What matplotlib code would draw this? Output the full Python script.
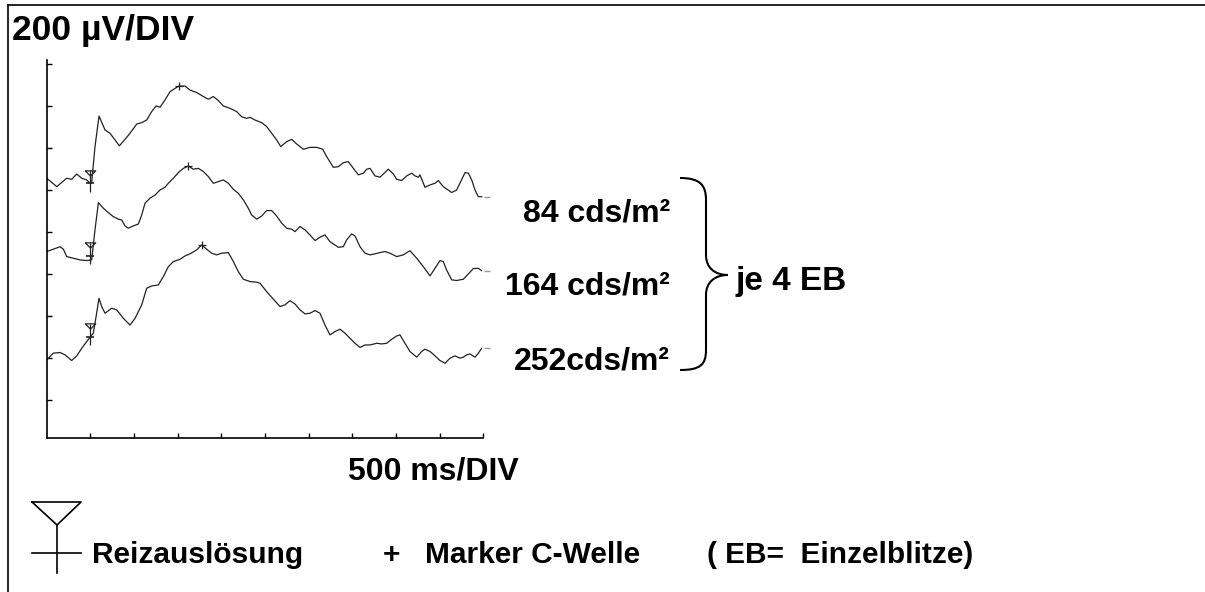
import matplotlib
matplotlib.use('Agg')
import matplotlib.pyplot as plt
from matplotlib.path import Path
from matplotlib.patches import PathPatch
from matplotlib.lines import Line2D

plt.rcParams['font.family'] = ['Liberation Sans', 'DejaVu Sans']
plt.rcParams['font.weight'] = 'bold'

# ERG traces: time in ms, amplitude in µV (traces stacked with offset)
t1 = [0, 115, 229, 286, 344, 401, 458, 489, 515, 553, 599, 668, 725, 783, 832, 897, 954,
      1031, 1088, 1145, 1202, 1252, 1298, 1355, 1412, 1470, 1515, 1584, 1641, 1718, 1794,
      1851, 1908, 1966, 2023, 2099, 2176, 2233, 2290, 2328, 2386, 2462, 2519, 2577, 2634,
      2680, 2748, 2806, 2863, 2939, 3016, 3092, 3161, 3206, 3283, 3340, 3397, 3454, 3512,
      3569, 3626, 3664, 3703, 3760, 3817, 3855, 3912, 3970, 4008, 4065, 4122, 4180, 4218,
      4256, 4275, 4332, 4390, 4447, 4485, 4542, 4638, 4695, 4741, 4791, 4829, 4867, 4905,
      4943, 4981]
v1 = [1056, 1016, 1056, 1051, 1076, 1056, 1048, 1035, 1035, 1206, 1352, 1286, 1270, 1238,
      1210, 1241, 1270, 1314, 1321, 1333, 1373, 1400, 1394, 1429, 1468, 1484, 1495, 1495,
      1476, 1464, 1445, 1432, 1445, 1426, 1400, 1389, 1373, 1349, 1341, 1346, 1333, 1321,
      1302, 1270, 1238, 1207, 1230, 1241, 1219, 1194, 1203, 1203, 1194, 1159, 1108, 1111,
      1130, 1135, 1103, 1072, 1080, 1099, 1103, 1067, 1061, 1076, 1099, 1076, 1051, 1045,
      1067, 1080, 1067, 1061, 1072, 1013, 1024, 1032, 1045, 1016, 988, 1000, 1040, 1083,
      1080, 1048, 1000, 968, 968]

t2 = [0, 76, 153, 191, 229, 305, 382, 458, 515, 553, 592, 649, 706, 763, 821, 859, 897, 935,
      992, 1050, 1088, 1126, 1183, 1241, 1298, 1355, 1393, 1450, 1508, 1565, 1622, 1679,
      1737, 1794, 1851, 1908, 1966, 2023, 2080, 2138, 2195, 2252, 2309, 2347, 2405, 2462,
      2519, 2577, 2634, 2691, 2748, 2806, 2844, 2901, 2958, 3015, 3073, 3130, 3187, 3244,
      3302, 3340, 3397, 3435, 3492, 3531, 3588, 3645, 3702, 3760, 3817, 3874, 3931, 4008,
      4084, 4160, 4237, 4313, 4390, 4447, 4504, 4542, 4580, 4638, 4695, 4771, 4828, 4886,
      4943, 4981]
v2 = [707, 718, 730, 718, 683, 675, 667, 664, 667, 810, 940, 913, 892, 873, 861, 857, 829,
      818, 829, 838, 881, 937, 961, 976, 1000, 1013, 1032, 1056, 1083, 1103, 1114, 1099,
      1103, 1088, 1064, 1032, 1040, 1048, 1032, 1003, 984, 953, 913, 881, 861, 876, 902,
      902, 876, 842, 818, 813, 802, 826, 810, 786, 759, 775, 786, 754, 738, 727, 730, 762,
      791, 781, 730, 699, 691, 696, 702, 707, 699, 683, 691, 711, 675, 635, 591, 627, 664,
      659, 619, 572, 569, 575, 600, 626, 627, 616]

t3 = [0, 76, 153, 210, 286, 344, 401, 458, 496, 534, 553, 599, 630, 668, 744, 802, 878, 954,
      1012, 1088, 1145, 1202, 1279, 1336, 1393, 1450, 1527, 1584, 1641, 1718, 1775, 1832,
      1889, 1947, 2004, 2080, 2138, 2195, 2252, 2328, 2405, 2443, 2519, 2596, 2672, 2729,
      2786, 2844, 2901, 2958, 3015, 3073, 3130, 3187, 3244, 3302, 3359, 3416, 3473, 3531,
      3588, 3645, 3702, 3779, 3836, 3893, 3951, 4008, 4046, 4103, 4160, 4237, 4294, 4332,
      4390, 4447, 4504, 4561, 4619, 4676, 4733, 4771, 4809, 4847, 4905, 4943, 4981]
v3 = [191, 223, 226, 215, 188, 210, 246, 278, 299, 318, 365, 484, 445, 413, 437, 429, 389,
      357, 389, 453, 532, 543, 548, 588, 635, 659, 670, 686, 696, 715, 738, 718, 699, 691,
      699, 702, 659, 611, 575, 564, 561, 556, 516, 480, 445, 453, 473, 457, 429, 410, 413,
      426, 413, 357, 310, 326, 337, 318, 294, 270, 250, 262, 262, 270, 267, 270, 289, 305,
      310, 270, 231, 204, 231, 242, 231, 210, 188, 175, 199, 210, 199, 204, 215, 219, 204,
      223, 246]

trigger_ms = 496
trigger_uv = [1032, 686, 301]
cwave_ms = [1515, 1622, 1775]
cwave_uv = [1495, 1114, 738]
labels = ['84 cds/m²', '164 cds/m²', '252cds/m²']

W, H = 1205, 592


def fx(px):
    return px / W


def fy(py):
    return 1 - py / H


fig = plt.figure(figsize=(W / 100, H / 100), dpi=100)
ax = fig.add_axes([fx(46.7), fy(438), (483.3 - 46.7) / W, (438 - 60) / H])

for t, v in [(t1, v1), (t2, v2), (t3, v3)]:
    ax.plot(t, v, color='#222222', lw=0.9, solid_joinstyle='round')
    # small grey end mark of the recorder
    ax.plot([5040], [v[-1]], marker='_', ms=4, color='#999999', clip_on=False)

# stimulus markers
tri = [(-1, 0.5), (1, 0.5), (0, -0.5), (-1, 0.5)]
for lev in trigger_uv:
    ax.vlines(trigger_ms, lev - 40, lev + 62, color='#222222', lw=0.9)
    ax.plot(trigger_ms, lev, marker='_', ms=6, mew=1.2, color='#222222')
    ax.plot(trigger_ms, lev + 50, marker=tri, ms=7.5, mew=0.9, mfc='none', mec='#222222')

# C-wave markers
ax.plot(cwave_ms, cwave_uv, ls='none', marker='+', ms=6, mew=0.9, color='#222222')

ax.set_xlim(0, 5000)
ax.set_ylim(-181, 1619)
ax.set_xticks(range(500, 5001, 500))
ax.set_yticks(range(0, 1601, 200))
ax.tick_params(direction='in', length=3.5, width=1, labelbottom=False, labelleft=False)
ax.spines['top'].set_visible(False)
ax.spines['right'].set_visible(False)
for s in ['left', 'bottom']:
    ax.spines[s].set_linewidth(1.2)
ax.patch.set_alpha(0)

# frame lines of the scanned figure
fig.add_artist(Line2D([fx(8), fx(8)], [fy(5), fy(592)], color='black', lw=1.2))
fig.add_artist(Line2D([fx(8), fx(1205)], [fy(5), fy(5)], color='black', lw=1.2))

fs = 23
fig.text(fx(12), fy(40), '200 µV/DIV', ha='left', va='baseline', fontsize=25.5, weight='bold')
for lab, base in zip(labels, [222, 295, 369]):
    fig.text(fx(670), fy(base), lab, ha='right', va='baseline', fontsize=fs, weight='bold')
fig.text(fx(735), fy(290), 'je 4 EB', ha='left', va='baseline', fontsize=24, weight='bold')
fig.text(fx(433), fy(479), '500 ms/DIV', ha='center', va='baseline', fontsize=fs, weight='bold')

# curly brace
pts = [(680, 178), (700, 178), (706, 185), (706, 200), (706, 255),
       (706, 268), (715, 275), (728, 275),
       (715, 275), (706, 282), (706, 295), (706, 350),
       (706, 365), (700, 370), (680, 370)]
codes = [Path.MOVETO, Path.CURVE4, Path.CURVE4, Path.CURVE4, Path.LINETO,
         Path.CURVE4, Path.CURVE4, Path.CURVE4,
         Path.CURVE4, Path.CURVE4, Path.CURVE4, Path.LINETO,
         Path.CURVE4, Path.CURVE4, Path.CURVE4]
brace = Path([(fx(x), fy(y)) for x, y in pts], codes)
fig.add_artist(PathPatch(brace, fc='none', ec='black', lw=1.5, transform=fig.transFigure))

# legend line at the bottom
fig.add_artist(Line2D([fx(32), fx(81), fx(57), fx(32)], [fy(502), fy(502), fy(525), fy(502)],
                      color='black', lw=1.2))
fig.add_artist(Line2D([fx(57), fx(57)], [fy(525), fy(573)], color='black', lw=1.2))
fig.add_artist(Line2D([fx(32), fx(81)], [fy(553), fy(553)], color='black', lw=1.2))

fb = 21.5
fig.text(fx(92), fy(563), 'Reizauslösung', ha='left', va='baseline', fontsize=fb, weight='bold')
fig.text(fx(391), fy(563), '+', ha='center', va='baseline', fontsize=fb, weight='bold')
fig.text(fx(425), fy(563), 'Marker C-Welle', ha='left', va='baseline', fontsize=fb, weight='bold')
fig.text(fx(707), fy(563), '( EB=  Einzelblitze)', ha='left', va='baseline', fontsize=fb,
         weight='bold')

fig.savefig('out.png', dpi=100)
